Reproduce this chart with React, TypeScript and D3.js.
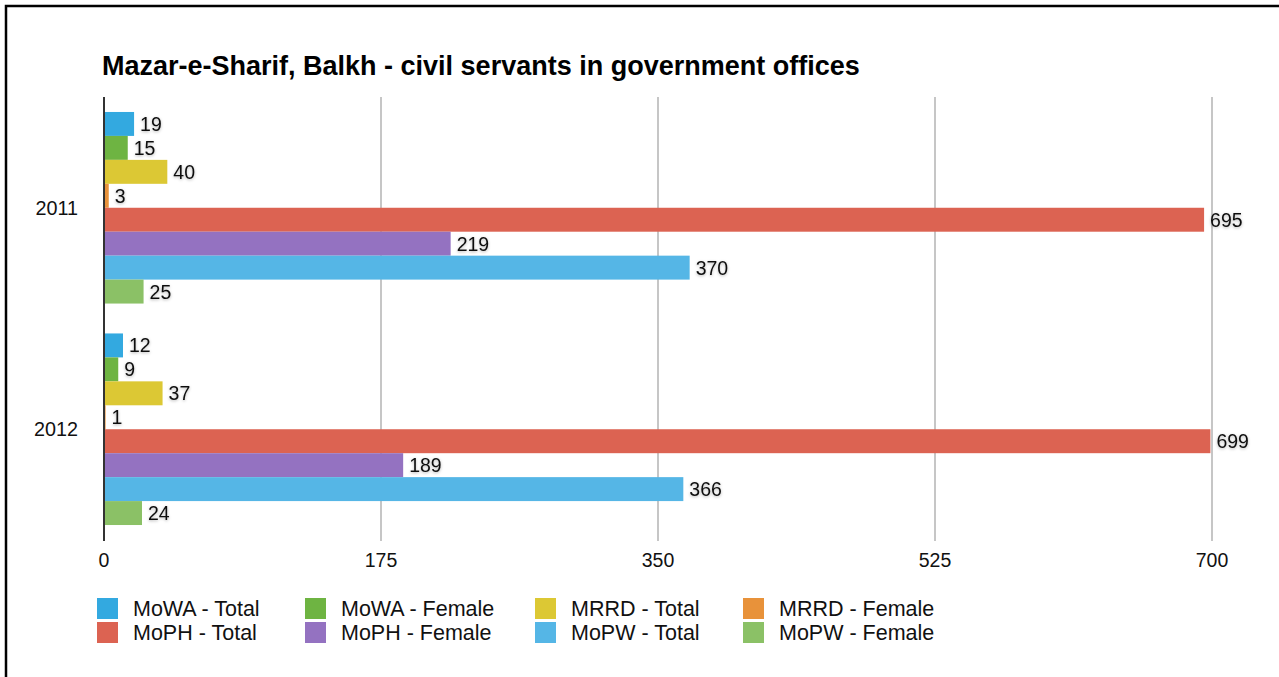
import React from "react";
import * as d3 from "d3";

const years = ["2011", "2012"];
const seriesNames = [
  "MoWA - Total",
  "MoWA - Female",
  "MRRD - Total",
  "MRRD - Female",
  "MoPH - Total",
  "MoPH - Female",
  "MoPW - Total",
  "MoPW - Female",
];
const values2011 = [19, 15, 40, 3, 695, 219, 370, 25];
const values2012 = [12, 9, 37, 1, 699, 189, 366, 24];
const colors = [
  "#33a9e0",
  "#6eb442",
  "#dcc834",
  "#e8923a",
  "#dc6352",
  "#9472c1",
  "#55b6e6",
  "#8bc166",
];
const xTicks = [0, 175, 350, 525, 700];
const title = "Mazar-e-Sharif, Balkh - civil servants in government offices";

const W = 1279;
const H = 677;
const FONT = "'Liberation Sans', Arial, Helvetica, sans-serif";

export default function App() {
  const x = d3.scaleLinear().domain([0, 700]).range([104, 1212]);
  const y0 = d3
    .scaleBand<string>()
    .domain(years)
    .range([97, 540])
    .paddingInner(0.135)
    .paddingOuter(0.0676);
  const y1 = d3
    .scaleBand<string>()
    .domain(seriesNames)
    .range([0, y0.bandwidth()])
    .padding(0);
  const data = [values2011, values2012];

  return (
    <svg
      width={W}
      height={H}
      style={{ position: "absolute", left: 0, top: 0, display: "block" }}
      fontFamily={FONT}
    >
      <defs>
        <filter id="glow" x="-30%" y="-50%" width="160%" height="200%">
          <feDropShadow dx="0" dy="1" stdDeviation="1.4" floodColor="#000" floodOpacity="0.3" />
        </filter>
      </defs>
      <rect x={0} y={0} width={W} height={H} fill="#fff" />
      <rect x={6} y={6} width={W + 20} height={H + 20} fill="#fff" stroke="#000" strokeWidth={2.5} />

      <text x={102} y={75} fontSize={27} fontWeight="bold" fill="#000">
        {title}
      </text>

      {xTicks.slice(1).map((t) => (
        <line key={t} x1={x(t)} x2={x(t)} y1={97} y2={541} stroke="#b3b3b3" strokeWidth={1.5} />
      ))}

      {years.map((yr, gi) => (
        <g key={yr} transform={`translate(0,${y0(yr)})`}>
          {seriesNames.map((s, si) => {
            const v = data[gi][si];
            const by = y1(s)!;
            const bh = y1.bandwidth();
            return (
              <g key={s}>
                <rect x={x(0)} y={by} width={x(v) - x(0)} height={bh} fill={colors[si]} />
                <text
                  x={x(v) + 6}
                  y={by + bh / 2}
                  dy="0.36em"
                  fontSize={19.5}
                  fill="#111"
                  filter="url(#glow)"
                >
                  {v}
                </text>
              </g>
            );
          })}
        </g>
      ))}

      <line x1={x(0)} x2={x(0)} y1={97} y2={541} stroke="#333" strokeWidth={2} />

      {years.map((yr) => (
        <text
          key={yr}
          x={78}
          y={y0(yr)! + y0.bandwidth() / 2}
          dy="0.36em"
          textAnchor="end"
          fontSize={19.8}
          fill="#111"
        >
          {yr}
        </text>
      ))}

      {xTicks.map((t) => (
        <text key={t} x={x(t)} y={560} dy="0.36em" textAnchor="middle" fontSize={19.5} fill="#111">
          {t}
        </text>
      ))}

      {seriesNames.map((s, i) => {
        const col = i % 4;
        const row = Math.floor(i / 4);
        const colX = [97, 305, 535, 743][col];
        const ry = 598 + row * 24;
        return (
          <g key={s}>
            <rect x={colX} y={ry} width={21} height={21} fill={colors[i]} />
            <text x={colX + 36} y={ry + 10.5} dy="0.36em" fontSize={21.5} fill="#111">
              {s}
            </text>
          </g>
        );
      })}
    </svg>
  );
}
